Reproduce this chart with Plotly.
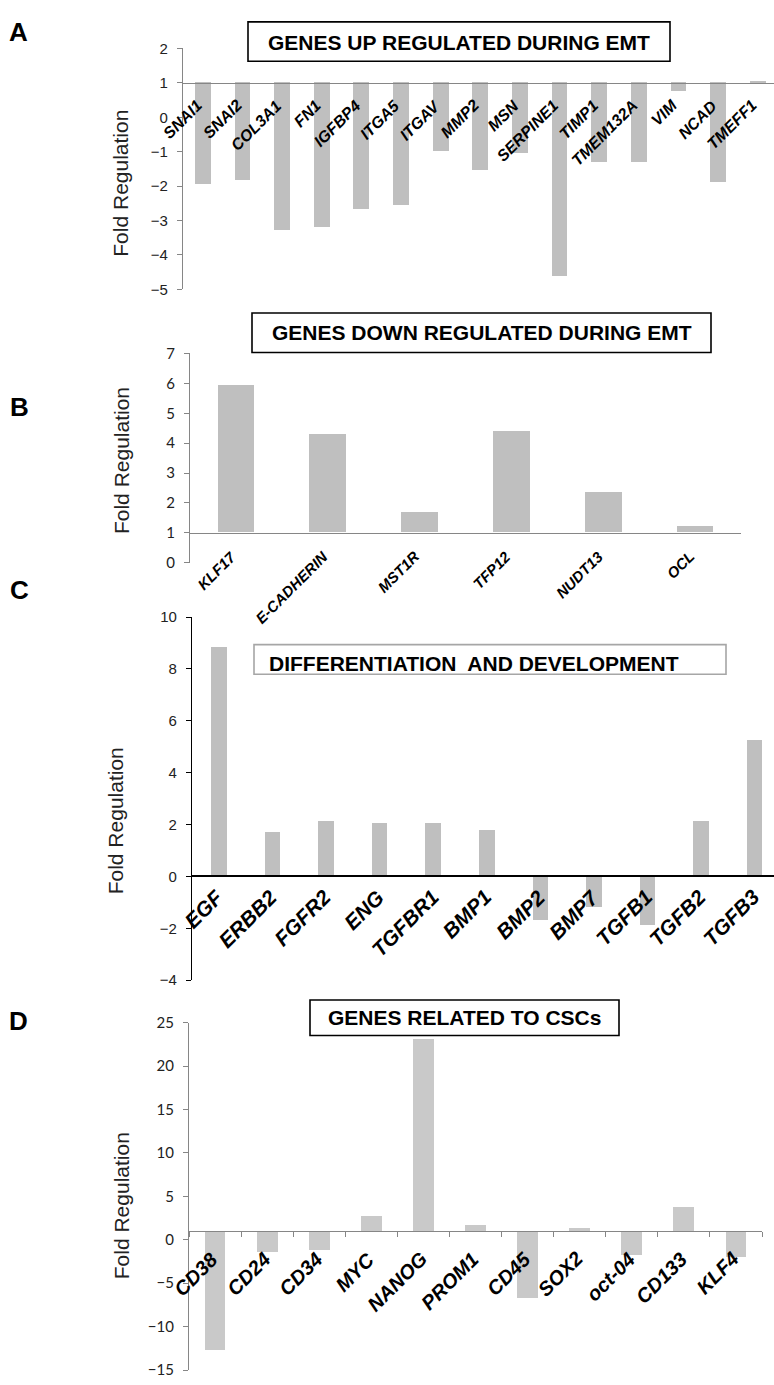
import plotly.graph_objects as go

W, H = 774, 1385

# ---------------- data ----------------
a_genes = ["SNAI1", "SNAI2", "COL3A1", "FN1", "IGFBP4", "ITGA5", "ITGAV", "MMP2", "MSN",
           "SERPINE1", "TIMP1", "TMEM132A", "VIM", "NCAD", "TMEFF1"]
a_vals = [-1.95, -1.85, -3.3, -3.2, -2.67, -2.57, -0.98, -1.55, -1.05, -4.63, -1.3, -1.3, 0.75, -1.9, 1.05]

b_genes = ["KLF17", "E-CADHERIN", "MST1R", "TFP12", "NUDT13", "OCL"]
b_vals = [5.93, 4.29, 1.69, 4.4, 2.35, 1.22]

c_genes = ["EGF", "ERBB2", "FGFR2", "ENG", "TGFBR1", "BMP1", "BMP2", "BMP7", "TGFB1", "TGFB2", "TGFB3"]
c_vals = [8.86, 1.71, 2.13, 2.05, 2.05, 1.79, -1.67, -1.18, -1.86, 2.13, 5.25]

d_genes = ["CD38", "CD24", "CD34", "MYC", "NANOG", "PROM1", "CD45", "SOX2", "oct-04", "CD133", "KLF4"]
d_vals = [-12.7, -1.4, -1.1, 2.8, 23.2, 1.75, -6.7, 1.4, -1.7, 3.85, -1.95]

titles = ["GENES UP REGULATED DURING EMT", "GENES DOWN REGULATED DURING EMT",
          "DIFFERENTIATION  AND DEVELOPMENT", "GENES RELATED TO CSCs"]
panel_letters = ["A", "B", "C", "D"]
ylabel = "Fold Regulation"


def fx(px):
    return px / W


def fy(py):
    return 1 - py / H


panels = [
    dict(genes=a_genes, vals=a_vals, base=1, yr=[-5, 2], dtick=1, xpx=(183, 774), ypx=(283, 39),
         xr=[-0.5, 14.41], width=0.40, color="#BFBFBF", axc="#868686", basec="#868686",
         tickfam="Liberation Sans", ticksize=15, labsize=16, lshift=(5, -11), xticks=False),
    dict(genes=b_genes, vals=b_vals, base=1, yr=[0, 7], dtick=1, xpx=(190, 741), ypx=(560, 348),
         xr=[-0.5, 5.5], width=0.40, color="#BFBFBF", axc="#868686", basec="#868686",
         tickfam="Lato", ticksize=15, labsize=15, lshift=(6, -12), xticks=False),
    dict(genes=c_genes, vals=c_vals, base=0, yr=[-4, 10], dtick=2, xpx=(192, 774), ypx=(983, 615),
         xr=[-0.5, 10.36], width=0.29, color="#BFBFBF", axc="#000000", basec="#000000",
         tickfam="Liberation Sans", ticksize=15, labsize=21, lshift=(12, -6), xticks=False),
    dict(genes=d_genes, vals=d_vals, base=1, yr=[-15, 25], dtick=5, xpx=(189, 762), ypx=(1378, 1026),
         xr=[-0.5, 10.5], width=0.40, color="#C9C9C9", axc="#868686", basec="#868686",
         tickfam="Lato", ticksize=15, labsize=20, lshift=(10, -14), xticks=True),
]

fig = go.Figure()
layout = {}
annotations = []
for i, p in enumerate(panels):
    n = "" if i == 0 else str(i + 1)
    xa, ya = "x" + n, "y" + n
    fig.add_trace(go.Bar(
        x=p["genes"], y=[v - p["base"] for v in p["vals"]], base=p["base"],
        marker=dict(color=p["color"], line=dict(width=0)), width=p["width"],
        xaxis=xa, yaxis=ya, showlegend=False, hoverinfo="skip"))
    y0, y1 = fy(p["ypx"][0]), fy(p["ypx"][1])
    r0, r1 = p["yr"]
    basepos = y0 + (p["base"] - r0) / (r1 - r0) * (y1 - y0)
    layout["xaxis" + n] = dict(
        domain=[fx(p["xpx"][0]), fx(p["xpx"][1])], range=p["xr"], type="category",
        anchor="free", position=basepos, showline=True, linecolor=p["basec"],
        linewidth=1.6 if i == 2 else 1.3, showgrid=False, zeroline=False,
        showticklabels=False,
        ticks="outside" if p["xticks"] else "", ticklen=5, tickcolor=p["basec"],
        tickson="boundaries", fixedrange=True)
    layout["yaxis" + n] = dict(
        domain=[y0, y1], range=p["yr"], anchor=xa, dtick=p["dtick"], tick0=0,
        showline=True, linecolor=p["axc"], linewidth=1.3, ticks="outside", ticklen=5,
        tickcolor=p["axc"], showgrid=False, zeroline=False, ticklabelstandoff=6,
        tickfont=dict(family=p["tickfam"], size=p["ticksize"], color="#222222"),
        fixedrange=True)
    # category labels, rotated, hanging below the baseline
    for g in p["genes"]:
        annotations.append(dict(
            text=g, x=g, y=p["base"], xref=xa, yref=ya, xanchor="right", yanchor="top",
            textangle=-45, showarrow=False, xshift=p["lshift"][0], yshift=p["lshift"][1],
            font=dict(family="Liberation Sans", size=p["labsize"], color="#000000",
                      weight="bold", style="italic")))

shapes = []

# title boxes
boxes = [(248, 12, 670, 52, "#000000"), (252, 307, 711, 347, "#000000"),
         (254, 643, 726, 673, "#A6A6A6"), (310, 1003, 619, 1039, "#000000")]
for (x0, y0, x1, y1, c) in boxes:
    shapes.append(dict(type="rect", xref="paper", yref="paper", x0=fx(x0), x1=fx(x1),
                       y0=fy(y1), y1=fy(y0), line=dict(color=c, width=1.6), fillcolor="white",
                       layer="above"))

title_pos = [(459, 33, "center"), (481.5, 327, "center"), (267, 662, "left"), (464, 1021, "center")]
for t, (x, y, anc) in zip(titles, title_pos):
    annotations.append(dict(text=t, xref="paper", yref="paper", x=fx(x), y=fy(y),
                            xanchor=anc, yanchor="middle", showarrow=False,
                            font=dict(family="Liberation Sans", size=21, color="#000000",
                                      weight="bold")))

letter_pos = [(18, 22), (19, 402), (19, 588), (18, 1024)]
for L, (x, y) in zip(panel_letters, letter_pos):
    annotations.append(dict(text=L, xref="paper", yref="paper", x=fx(x), y=fy(y),
                            xanchor="center", yanchor="middle", showarrow=False,
                            font=dict(family="Liberation Sans", size=26, color="#000000",
                                      weight="bold")))

ylab_pos = [(121, 176), (121, 457), (115, 822), (121, 1212)]
for (x, y) in ylab_pos:
    annotations.append(dict(text=ylabel, xref="paper", yref="paper", x=fx(x), y=fy(y),
                            xanchor="center", yanchor="middle", textangle=-90, showarrow=False,
                            font=dict(family="Liberation Sans", size=21, color="#222222")))

fig.update_layout(
    width=W, height=H, margin=dict(l=0, r=0, t=0, b=0),
    paper_bgcolor="white", plot_bgcolor="white",
    shapes=shapes, annotations=annotations, bargap=0, **layout)

fig.write_html("out.html")
